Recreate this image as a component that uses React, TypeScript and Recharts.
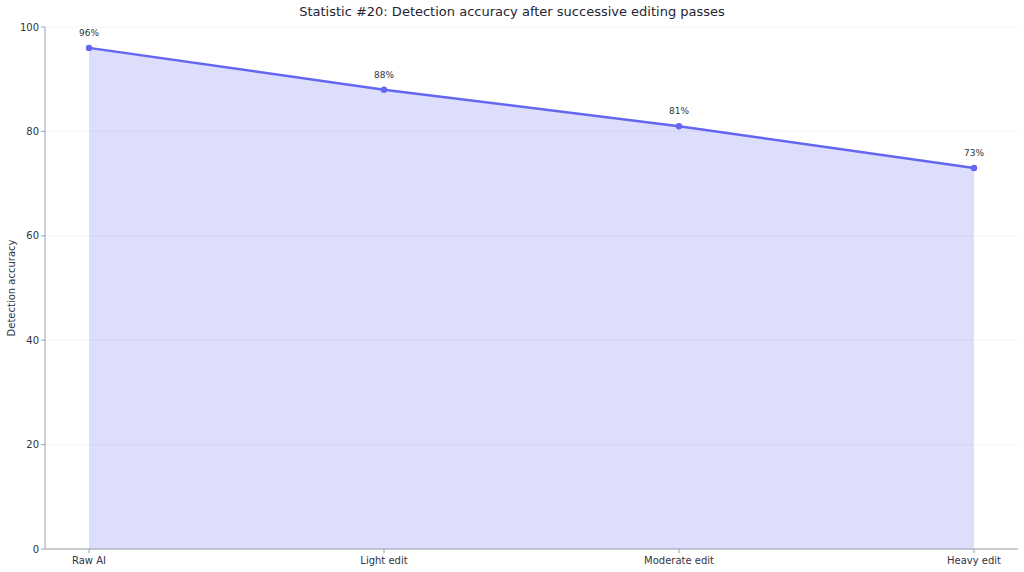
import React from "react";
import { AreaChart, Area, XAxis, YAxis, CartesianGrid, LabelList } from "recharts";

const categories = ["Raw AI", "Light edit", "Moderate edit", "Heavy edit"];
const accuracy = [96, 88, 81, 73];
const yTicks = [0, 20, 40, 60, 80, 100];

const data = categories.map((c, i) => ({ stage: c, value: accuracy[i] }));

const FONT = "'DejaVu Sans', sans-serif";
const TEXT = "#2f3542";
const AXIS = "#9aa0ad";
const INDIGO = "#6366f1";

const Dot = (props: any) => {
  const { cx, cy, index } = props;
  if (cx == null || cy == null) return null;
  return <circle key={`d-${index}`} cx={cx} cy={cy} r={3.2} fill={INDIGO} stroke="none" />;
};

export default function App() {
  return (
    <div style={{ position: "absolute", left: 0, top: 0, width: 1024, height: 572, background: "#fff", fontFamily: FONT }}>
      <div
        style={{
          position: "absolute",
          top: 4,
          left: 0,
          width: 1024,
          textAlign: "center",
          fontSize: 13,
          color: "#1f2533",
          fontFamily: FONT,
        }}
      >
        Statistic #20: Detection accuracy after successive editing passes
      </div>
      <AreaChart
        width={1024}
        height={572}
        data={data}
        margin={{ top: 27, right: 6, bottom: 0, left: 0 }}
      >
        <CartesianGrid vertical={false} stroke="#ebedf0" strokeDasharray="3 1" strokeWidth={0.8} />
        <XAxis
          dataKey="stage"
          padding={{ left: 44, right: 44 }}
          height={23}
          tickLine={{ stroke: AXIS }}
          axisLine={{ stroke: AXIS }}
          tickSize={4}
          tick={{ fill: TEXT, fontSize: 10, fontFamily: FONT, dy: 2 }}
          interval={0}
        />
        <YAxis
          domain={[0, 100]}
          ticks={yTicks}
          width={45}
          tickLine={{ stroke: AXIS }}
          axisLine={{ stroke: AXIS }}
          tickSize={4}
          tick={{ fill: TEXT, fontSize: 10, fontFamily: FONT }}
          label={{
            value: "Detection accuracy",
            angle: -90,
            position: "insideLeft",
            offset: 0,
            dx: 11,
            style: { fill: TEXT, fontSize: 10, fontFamily: FONT, textAnchor: "middle" },
          }}
        />
        <Area
          type="linear"
          dataKey="value"
          stroke={INDIGO}
          strokeWidth={2.5}
          fill={INDIGO}
          fillOpacity={0.22}
          dot={<Dot />}
          activeDot={false}
          isAnimationActive={false}
        >
          <LabelList
            dataKey="value"
            position="top"
            offset={12}
            formatter={(v: number) => `${v}%`}
            style={{ fill: TEXT, fontSize: 9, fontFamily: FONT }}
          />
        </Area>
      </AreaChart>
    </div>
  );
}
